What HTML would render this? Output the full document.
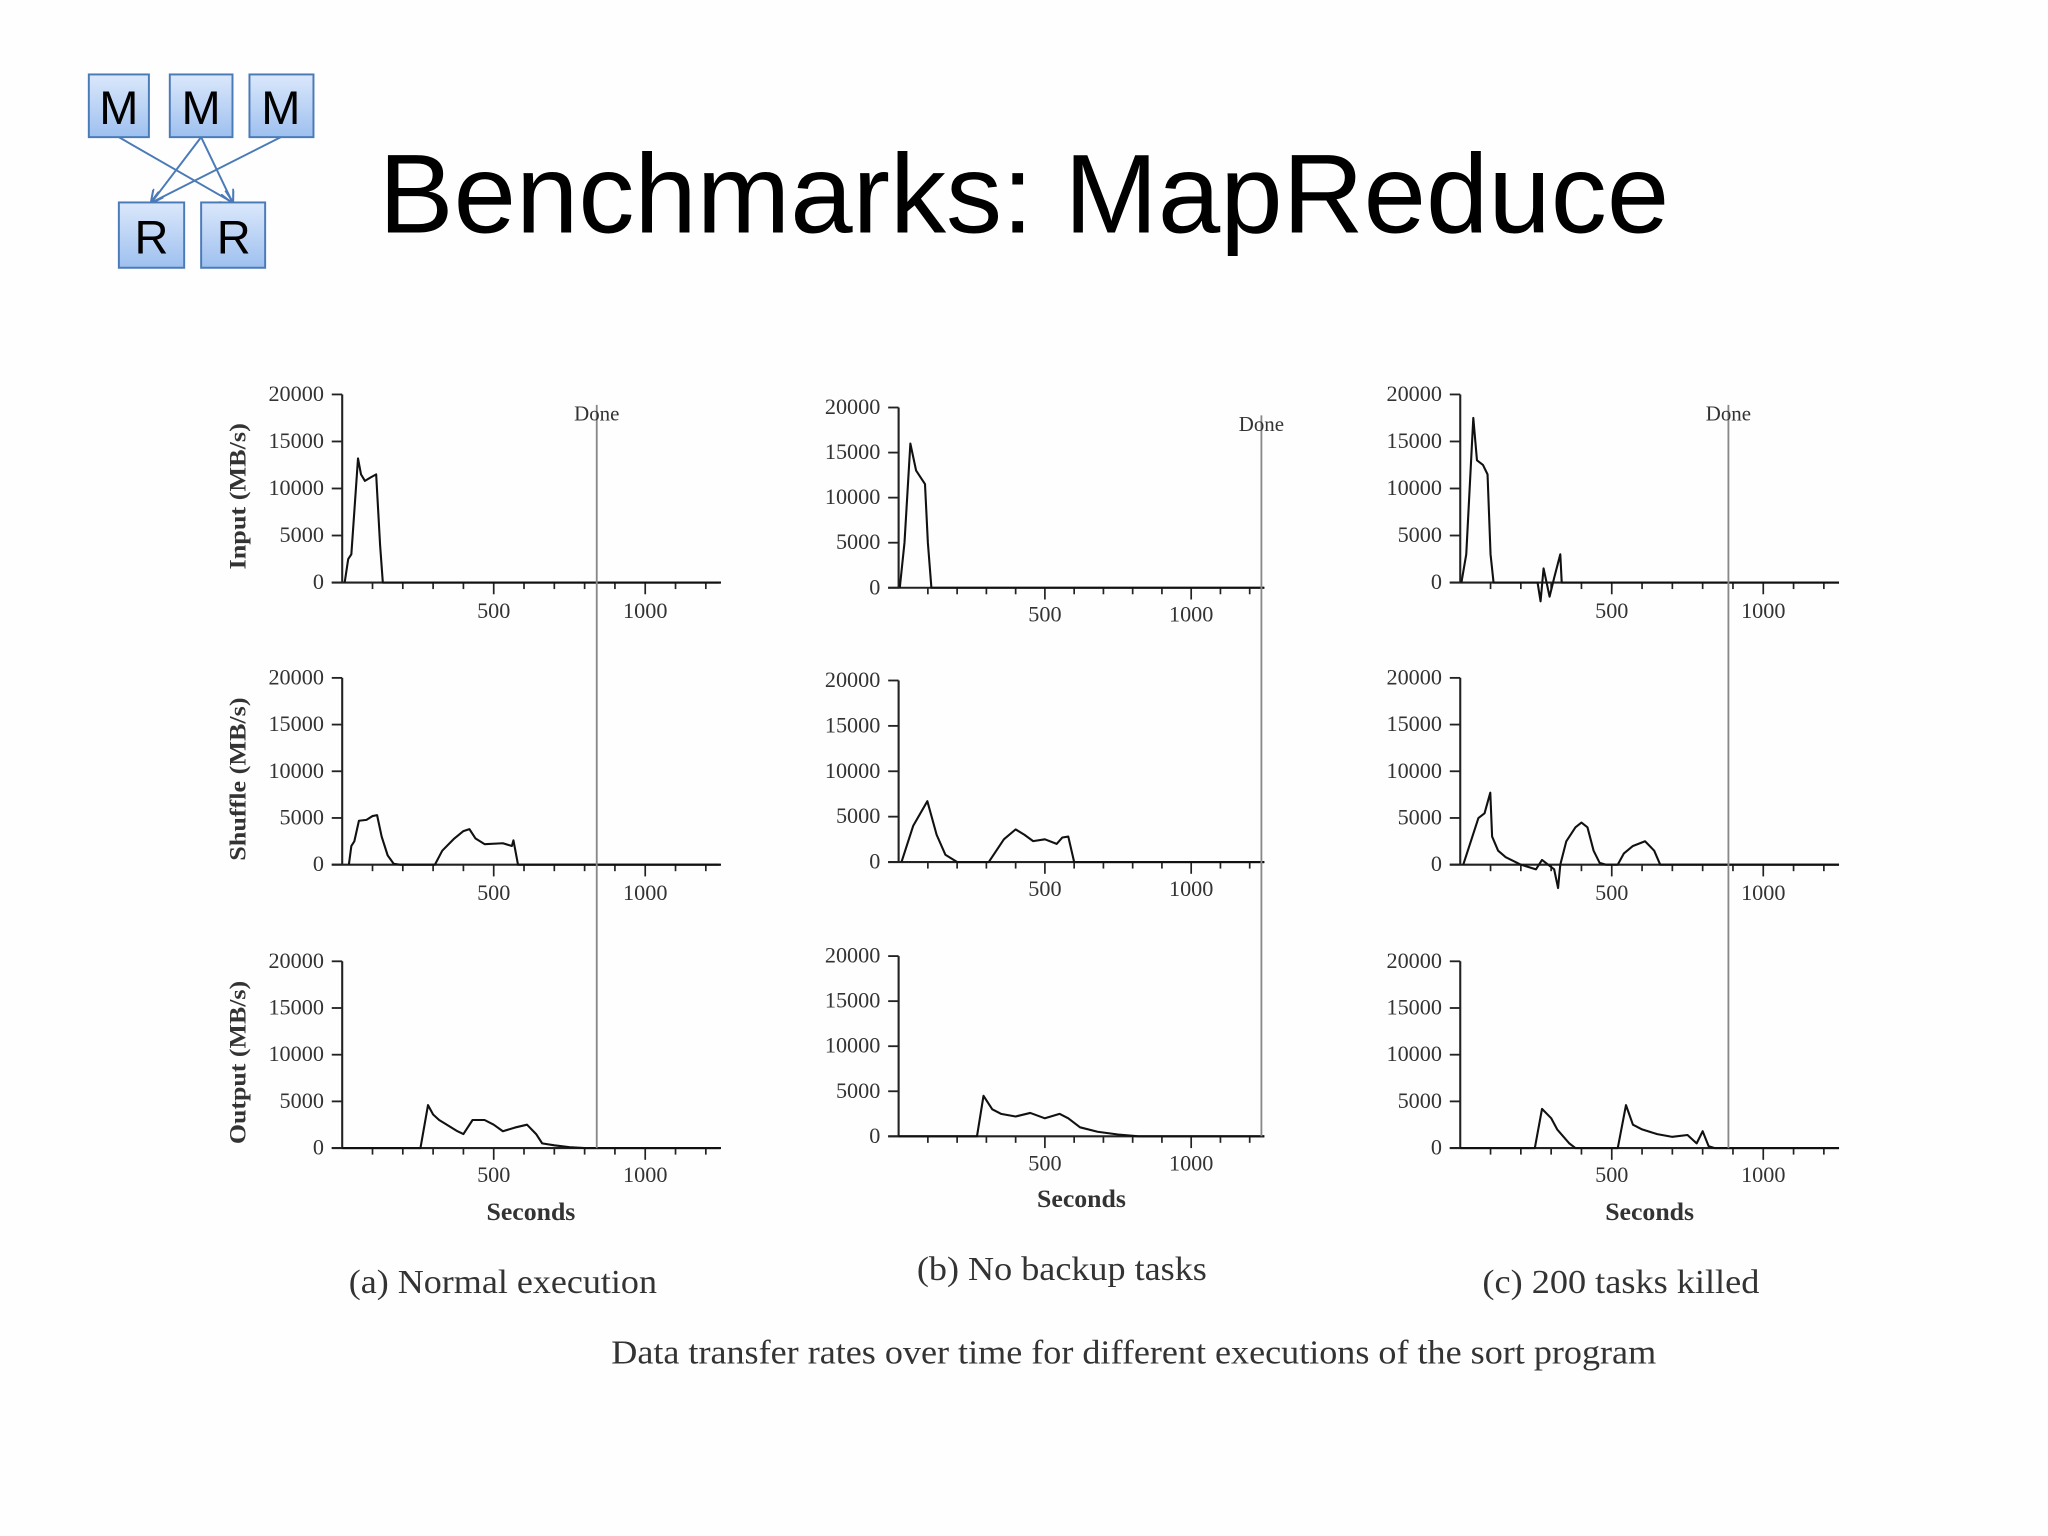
<!DOCTYPE html>
<html><head><meta charset="utf-8"><style>
html,body{margin:0;padding:0;background:#fff;}
svg{display:block;}
.t{font-family:"Liberation Serif",serif;fill:#333;}
</style></head><body>
<svg id="root" width="2048" height="1536" viewBox="0 0 1568 1176" xmlns="http://www.w3.org/2000/svg">
<rect x="0" y="0" width="1568" height="1176" fill="#fefefe"/>
<g stroke="#4a7ab8" stroke-width="1.5">
  <defs><linearGradient id="bx" x1="0" y1="0" x2="0" y2="1"><stop offset="0" stop-color="#dbe8fb"/><stop offset="1" stop-color="#9ec0ef"/></linearGradient>
  <marker id="ah" viewBox="0 0 10 10" refX="9" refY="5" markerWidth="7" markerHeight="7" orient="auto"><path d="M0,0 L10,5 L0,10" fill="none" stroke="#4a7ab8" stroke-width="1.5"/></marker></defs>
  <line x1="91" y1="105" x2="178" y2="155" marker-end="url(#ah)"/>
  <line x1="154" y1="105" x2="116" y2="155" marker-end="url(#ah)"/>
  <line x1="154" y1="105" x2="178" y2="155" marker-end="url(#ah)"/>
  <line x1="215" y1="105" x2="116" y2="155" marker-end="url(#ah)"/>
  <rect x="68" y="57" width="46" height="48" fill="url(#bx)"/>
  <rect x="130" y="57" width="48" height="48" fill="url(#bx)"/>
  <rect x="191" y="57" width="49" height="48" fill="url(#bx)"/>
  <rect x="91" y="155" width="50" height="50" fill="url(#bx)"/>
  <rect x="154" y="155" width="49" height="50" fill="url(#bx)"/>
  <g stroke="none" fill="#000" font-family="Liberation Sans, sans-serif" font-size="36" text-anchor="middle">
    <text x="91" y="95">M</text><text x="154" y="95">M</text><text x="215" y="95">M</text>
    <text x="116" y="194">R</text><text x="179" y="194">R</text>
  </g>
</g>
<text x="290" y="178" font-family="Liberation Sans, sans-serif" font-size="86" fill="#000" textLength="988" lengthAdjust="spacingAndGlyphs">Benchmarks: MapReduce</text>
<g id="charts"></g>
</svg>
<script>
// ---- data: [seconds, MB/s] ----
const aInput   = [[8,0],[20,2500],[30,3000],[52,13200],[62,11500],[75,10800],[95,11200],[112,11500],[125,4000],[134,0],[1250,0]];
const aShuffle = [[22,0],[30,2000],[40,2500],[55,4700],[80,4800],[100,5200],[115,5300],[130,3000],[150,1000],[170,100],[190,0],[306,0],[330,1500],[370,2800],[400,3600],[420,3800],[440,2800],[470,2200],[530,2300],[560,2000],[565,2600],[580,0],[1250,0]];
const aOutput  = [[0,0],[258,0],[283,4600],[300,3600],[320,3000],[340,2600],[380,1800],[400,1500],[430,3000],[470,3000],[500,2500],[530,1800],[570,2200],[610,2500],[640,1500],[660,500],[700,300],[750,100],[800,0],[1250,0]];
const bInput   = [[4,0],[20,5000],[40,16000],[60,13000],[90,11500],[100,5000],[112,0],[1250,0]];
const bShuffle = [[10,0],[50,4000],[98,6700],[130,3000],[160,800],[200,0],[308,0],[360,2500],[400,3600],[430,3000],[460,2300],[500,2500],[540,2000],[560,2700],[580,2800],[600,0],[1250,0]];
const bOutput  = [[0,0],[268,0],[290,4500],[320,3000],[350,2500],[400,2200],[450,2600],[500,2000],[550,2500],[580,2000],[620,1000],[680,500],[750,200],[820,0],[1250,0]];
const cInput   = [[4,0],[20,3000],[43,17500],[55,13000],[75,12500],[90,11500],[100,3000],[110,0],[255,0],[265,-2000],[275,1500],[295,-1500],[310,500],[330,3000],[335,0],[1250,0]];
const cShuffle = [[10,0],[40,3000],[60,5000],[80,5500],[99,7700],[105,3000],[125,1500],[150,800],[200,0],[250,-500],[270,500],[310,-500],[323,-2500],[330,0],[350,2500],[380,4000],[400,4500],[420,4000],[440,1500],[460,200],[480,0],[520,0],[540,1200],[570,2000],[610,2500],[640,1500],[660,0],[1250,0]];
const cOutput  = [[0,0],[246,0],[270,4200],[300,3200],[320,2000],[360,500],[380,0],[520,0],[547,4600],[570,2500],[600,2000],[650,1500],[700,1200],[750,1400],[780,500],[800,1800],[820,200],[840,0],[1250,0]];
const yTicks = [0,5000,10000,15000,20000];
const xTickLabels = [500,1000];
const rowTitles = ["Input (MB/s)","Shuffle (MB/s)","Output (MB/s)"];
const captions = ["(a) Normal execution","(b) No backup tasks","(c) 200 tasks killed"];
const doneTimes = [840,1240,885];

const NS="http://www.w3.org/2000/svg";
const root=document.getElementById('charts');
function el(tag,attrs,parent){const e=document.createElementNS(NS,tag);for(const k in attrs)e.setAttribute(k,attrs[k]);(parent||root).appendChild(e);return e;}

const titleLens=[112,125,125];
const panels=[
 {id:'a',x0:262,pxs:0.232,xEnd:551,rows:[[446,302],[662,519],[879,736]],data:[aInput,aShuffle,aOutput],lblY:[467,683,899],secY:934,capX:385,capY:990,capLen:236,doneTop:310},
 {id:'b',x0:688,pxs:0.224,xEnd:968,rows:[[450,312],[660,521],[870,732]],data:[bInput,bShuffle,bOutput],lblY:[470,680,890],secY:924,capX:813,capY:980,capLen:222,doneTop:318},
 {id:'c',x0:1118,pxs:0.232,xEnd:1408,rows:[[446,302],[662,519],[879,736]],data:[cInput,cShuffle,cOutput],lblY:[467,683,899],secY:934,capX:1241,capY:990,capLen:212,doneTop:310}
];
panels.forEach((p,pi)=>{
  const g=el('g',{});
  
  
  const xs=t=>p.x0+t*p.pxs;
  p.rows.forEach((r,ri)=>{
    const [y0,y20]=r;
    const ys=v=>y0-(v/20000)*(y0-y20);
    const rg=el('g',{},g);
    
    
    const ya=el('line',{x1:p.x0,y1:ys(20000),x2:p.x0,y2:y0,stroke:'#222','stroke-width':1.6},rg);
    
    
    const xa=el('line',{x1:p.x0-8,y1:y0,x2:p.xEnd,y2:y0,stroke:'#222','stroke-width':1.6},rg);
    
    
    yTicks.forEach(v=>{
      el('line',{x1:p.x0-8,y1:ys(v),x2:p.x0,y2:ys(v),stroke:'#222','stroke-width':1.4},rg);
      const tl=el('text',{x:p.x0-14,y:ys(v)+5,'text-anchor':'end','font-size':17,class:'t'},rg);
      tl.textContent=v;
      
      
    });
    for(let t=100;t<=1200;t+=100){
      const major=(t%500===0);
      el('line',{x1:xs(t),y1:y0,x2:xs(t),y2:y0+(major?9:5),stroke:'#222','stroke-width':1.3},rg);
    }
    xTickLabels.forEach(t=>{
      const tl=el('text',{x:xs(t),y:p.lblY[ri]+6,'text-anchor':'middle','font-size':17,class:'t'},rg);
      tl.textContent=t;
      
      
    });
    if(pi===0){
      const cy=(y0+y20)/2+6;
      const tt=el('text',{x:0,y:0,transform:`translate(188,${cy}) rotate(-90)`,'text-anchor':'middle','font-size':18,'font-weight':'bold',class:'t',textLength:titleLens[ri],lengthAdjust:'spacingAndGlyphs'},rg);
      tt.textContent=rowTitles[ri];
      
      
    }
    const d=p.data[ri].map((q,i)=>(i?'L':'M')+xs(q[0]).toFixed(1)+','+ys(q[1]).toFixed(1)).join(' ');
    const ln=el('path',{d:d,fill:'none',stroke:'#111','stroke-width':1.6,'stroke-linejoin':'round'},rg);
    
    
  });
  const dx=xs(doneTimes[pi]);
  const dl=el('line',{x1:dx,y1:p.doneTop,x2:dx,y2:p.rows[2][0],stroke:'#888','stroke-width':1.4},g);
  
  
  const dt=el('text',{x:dx,y:p.doneTop+12,'text-anchor':'middle','font-size':16,class:'t'},g);
  dt.textContent='Done';
  
  
  const sx=el('text',{x:(p.x0+p.xEnd)/2,y:p.secY,'text-anchor':'middle','font-size':19,'font-weight':'bold',class:'t',textLength:68,lengthAdjust:'spacingAndGlyphs'},g);
  sx.textContent='Seconds';
  
  
  const cap=el('text',{x:p.capX,y:p.capY,'text-anchor':'middle','font-size':26,class:'t',textLength:p.capLen,lengthAdjust:'spacingAndGlyphs'},g);
  cap.textContent=captions[pi];
  
  
});
const fc=el('text',{x:868,y:1044,'text-anchor':'middle','font-size':26,class:'t',textLength:800,lengthAdjust:'spacingAndGlyphs'});
fc.textContent='Data transfer rates over time for different executions of the sort program';


</script>
</body></html>
